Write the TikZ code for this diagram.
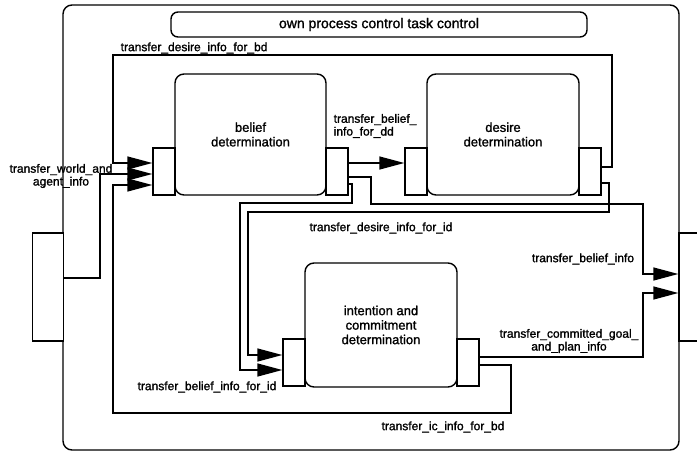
\documentclass[tikz,border=0pt]{standalone}
\usepackage{fontspec}
\setmainfont{Liberation Sans}[BoldFont=Liberation Sans,BoldFeatures={FakeBold=1.3}]
\usetikzlibrary{arrows.meta}
\begin{document}
\begin{tikzpicture}[x=1pt,y=-1pt,line width=1.4pt,>={Triangle[length=25pt,width=13pt]},
 comp/.style={draw,rounded corners=9pt,inner sep=0pt,align=center,font=\fontsize{13}{14.5}\selectfont\bfseries},
 port/.style={draw,fill=white,minimum width=22pt,minimum height=47pt,inner sep=0pt},
 ext/.style={draw,fill=white,minimum width=31pt,minimum height=108pt,inner sep=0pt},
 lbl/.style={font=\fontsize{12}{12.8}\selectfont\bfseries,align=center,inner sep=0pt}]
\useasboundingbox (0,0) rectangle (697,453);
\clip (0,0) rectangle (697,453);
\node[comp,minimum width=616pt,minimum height=445pt] (agent) at (371,227.5) {};
\node[ext] (extin) at (48,287) {}; \node[ext] (extout) at (694.5,287) {};
\node[comp,rounded corners=7pt,minimum width=416pt,minimum height=25pt,font=\fontsize{14}{15}\selectfont\bfseries] (ctrl) at (379,24.5) {own process control task control};
\node[comp,minimum width=151pt,minimum height=121pt] (bd) at (250.5,134.5) {belief\\determination};
\node[comp,minimum width=152pt,minimum height=121pt] (dd) at (503,134.5) {desire\\determination};
\node[comp,minimum width=152pt,minimum height=124pt] (icd) at (381,325) {intention and\\commitment\\determination};
\node[port] (bdin) at (164,171.5) {}; \node[port] (bdout) at (337,171.5) {};
\node[port] (ddin) at (416,171.5) {}; \node[port] (ddout) at (590,171.5) {};
\node[port] (icin) at (294,362.5) {}; \node[port] (icout) at (468,362.5) {};
\draw[->] (bdout.east |- 0,163) -- (ddin.west |- 0,163);
\draw[->] (ddout.east |- 0,167) -| (612,55) -| (113,163) -- (bdin.west |- 0,163);
\draw[->] (extin.east |- 0,278) -| (100,174) -- (bdin.west |- 0,174);
\draw[->] (icout.east |- 0,365) -| (511,413) -| (113,185) -- (bdin.west |- 0,185);
\draw[->] (bdout.east |- 0,177) -| (371,204) -| (643,274) -- (extout.west |- 0,274);
\draw[->] (bdout.east |- 0,184) -| (352,203) -| (240,370) -- (icin.west |- 0,370);
\draw[->] (ddout.east |- 0,183) -| (609,212) -| (248,355) -- (icin.west |- 0,355);
\draw[->] (icout.east |- 0,357) -| (643,293) -- (extout.west |- 0,293);
\node[lbl,anchor=west] (dbdlbl) at (120,48) {transfer\_desire\_info\_for\_bd};
\node[lbl] (wlbl) at (61,176) {transfer\_world\_and\\agent\_info};
\node[lbl] (ibdlbl) at (443,427) {transfer\_ic\_info\_for\_bd};
\node[lbl,align=left,anchor=west] (bddlbl) at (333,126) {transfer\_belief\_\\info\_for\_dd};
\node[lbl] (blbl) at (583,259) {transfer\_belief\_info};
\node[lbl] (bidlbl) at (207,387) {transfer\_belief\_info\_for\_id};
\node[lbl] (didlbl) at (381,228) {transfer\_desire\_info\_for\_id};
\node[lbl] (glbl) at (569,341) {transfer\_committed\_goal\_\\and\_plan\_info};
\end{tikzpicture}
\end{document}
